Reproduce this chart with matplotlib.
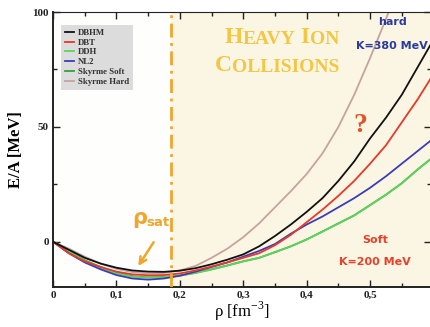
import numpy as np
import matplotlib
matplotlib.use('Agg')
import matplotlib.pyplot as plt
from matplotlib.ticker import MultipleLocator, FuncFormatter

# density grid [fm^-3] and E/A [MeV]
rho = [0.0, 0.025, 0.05, 0.075, 0.1, 0.125, 0.15, 0.175, 0.2, 0.225, 0.25, 0.275,
       0.3, 0.325, 0.35, 0.375, 0.4, 0.425, 0.45, 0.475, 0.5, 0.525, 0.55, 0.575, 0.6]
dbhm = [0, -3.5, -7, -9.5, -11.3, -12.5, -13, -13.1, -12.6, -11.5, -9.8, -7.8,
        -5.5, -2, 2.5, 7.5, 13, 19, 26.5, 35, 45, 54, 64, 76, 88]
dbt = [0, -5, -8.5, -11, -13, -14.2, -14.6, -14.5, -13.8, -12.5, -10.8, -9,
       -7, -5, -1.5, 3, 8.5, 14, 20, 26.5, 34, 42, 52, 62, 73]
ddh = [0, -4.2, -8.3, -11.3, -13.8, -15.2, -15.6, -15.4, -14.8, -13.6, -12.1, -10.4,
       -8.6, -7, -4.6, -2, 1, 4.4, 7.9, 11.4, 15.9, 20.4, 25.4, 31.4, 37]
nl2 = [0, -5, -9, -12, -14.5, -16, -16.5, -16, -14.8, -13, -11, -9,
       -6.5, -4, -1, 3.5, 7.5, 11, 15, 19, 23.5, 28.5, 34, 39.5, 45]
sky_soft = [0, -4, -8, -11, -13.5, -15, -15.5, -15.3, -14.7, -13.5, -12, -10.3,
            -8.5, -7, -4.5, -2, 1, 4.5, 8, 11.5, 16, 20.5, 25.5, 31.5, 37]
sky_hard = [0, -3, -6.5, -9.5, -11.8, -13.2, -13.8, -13.6, -12.5, -10.5, -7, -3,
            2, 8, 15, 22, 29.5, 38.5, 50, 64, 80, 97, 115, 135, 155]

names = ['DBHM', 'DBT', 'DDH', 'NL2', 'Skyrme Soft', 'Skyrme Hard']
colors = ['#111111', '#e8382a', '#5fd35f', '#3c3cb8', '#36a236', '#c6a3a0']
series = [dbhm, dbt, ddh, nl2, sky_soft, sky_hard]

rho_sat = 0.186

fig = plt.figure(figsize=(4.31, 3.27), dpi=100)
ax = fig.add_axes([53/431, 40/327, 378/431, 275/327])
ax.set_facecolor('#fefefc')

# heavy ion collision region
ax.axvspan(rho_sat, 0.6, color='#fbf6e3', zorder=0, lw=0)
ax.axvline(rho_sat, color='#f0a52c', lw=2, ls=(0, (5, 2, 1, 2)), zorder=3)

# draw the softer ones first so black stays on top like the original
order = [5, 4, 2, 3, 1, 0]
for i in order:
    ax.plot(rho, series[i], color=colors[i], lw=1.3, zorder=2)

ax.set_xlim(0, 0.596)
ax.set_ylim(-19.7, 100)

ax.xaxis.set_major_locator(MultipleLocator(0.1))
ax.xaxis.set_minor_locator(MultipleLocator(0.05))
ax.yaxis.set_major_locator(MultipleLocator(50))
ax.yaxis.set_minor_locator(MultipleLocator(25))
ax.xaxis.set_major_formatter(FuncFormatter(lambda v, p: '0' if abs(v) < 1e-9 else ('%.1f' % v).replace('.', ',')))
ax.yaxis.set_major_formatter(FuncFormatter(lambda v, p: '%d' % v))
ax.tick_params(which='both', direction='in', top=True, right=True, colors='#222222')
ax.tick_params(which='major', length=5, width=1, pad=3)
ax.tick_params(which='minor', length=3, width=1)
for lab in ax.get_xticklabels() + ax.get_yticklabels():
    lab.set_family('Liberation Serif')
    lab.set_fontweight('bold')
    lab.set_fontsize(8)
for s in ax.spines.values():
    s.set_color('#222222')
ax.spines['left'].set_linewidth(1.4)
ax.spines['bottom'].set_linewidth(1.4)
ax.spines['top'].set_linewidth(0.8)
ax.spines['right'].set_linewidth(0.8)

ax.set_xlabel('ρ [fm$^{\\mathregular{-3}}$]', family='Liberation Serif', fontsize=12, labelpad=0)
ax.set_ylabel('E/A [MeV]', family='Liberation Serif', fontsize=12, fontweight='bold', labelpad=6)

# legend
handles = [ax.plot([], [], color=c, lw=1.3)[0] for c in colors]
leg = ax.legend(handles, names, loc='upper left', bbox_to_anchor=(0.01, 0.97),
                prop={'family': 'Liberation Serif', 'size': 6.3, 'weight': 'bold'},
                handlelength=1.0, handletextpad=0.5, labelspacing=0.2,
                borderpad=0.45, fancybox=False, framealpha=1)
leg.get_frame().set_facecolor('#dcdcdc')
leg.get_frame().set_edgecolor('none')
for t in leg.get_texts():
    t.set_color('#333333')

# "Heavy Ion Collisions" in small caps
gold = '#f2c744'
def small_caps(x, y, parts):
    prev = None
    for txt, size in parts:
        kw = dict(color=gold, fontsize=size, family='Liberation Serif',
                  fontweight='bold', va='bottom', ha='left', zorder=4)
        if prev is None:
            prev = ax.text(x, y, txt, **kw)
        else:
            prev = ax.annotate(txt, xy=(1, 0), xycoords=prev, **kw)

small_caps(0.27, 84.5, [('H', 17), ('EAVY', 14), (' I', 17), ('ON', 14)])
small_caps(0.256, 72, [('C', 17), ('OLLISIONS', 14)])

ax.text(0.535, 95.5, 'hard', color='#2b3a9c', fontsize=8, fontweight='bold',
        ha='center', va='center', zorder=4)
ax.text(0.535, 85.2, 'K=380 MeV', color='#2b3a9c', fontsize=8, fontweight='bold',
        ha='center', va='center', zorder=4)
ax.text(0.484, 50.5, '?', color='#e0552a', fontsize=20, fontweight='bold',
        family='Liberation Serif', ha='center', va='center', zorder=4)
ax.text(0.508, 0.8, 'Soft', color='#e8402a', fontsize=8, fontweight='bold',
        ha='center', va='center', zorder=4)
ax.text(0.508, -8.8, 'K=200 MeV', color='#e8402a', fontsize=8, fontweight='bold',
        ha='center', va='center', zorder=4)

# rho_sat marker
orange = '#f0a52c'
ax.text(0.125, 10.5, 'ρ', color=orange, fontsize=15, fontweight='bold',
        ha='left', va='center', zorder=4)
ax.text(0.147, 8.3, 'sat', color=orange, fontsize=9.5, fontweight='bold',
        ha='left', va='center', zorder=4)
ax.annotate('', xy=(0.132, -11.6), xytext=(0.161, 0.8),
            arrowprops=dict(arrowstyle='->', color=orange, lw=1.8, mutation_scale=12),
            zorder=4)

fig.savefig('out.png', dpi=100)
